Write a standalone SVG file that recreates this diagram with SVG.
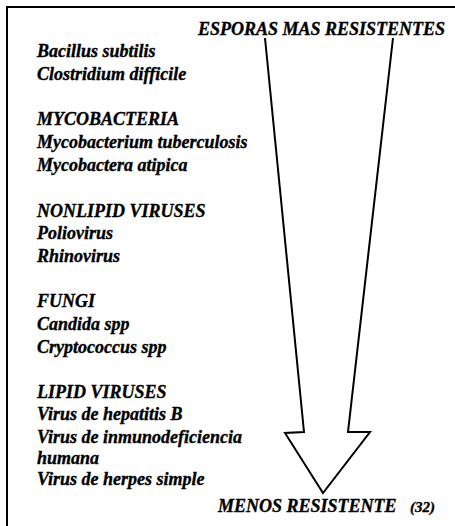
<svg xmlns="http://www.w3.org/2000/svg" width="455" height="526" viewBox="0 0 455 526">
<style>
text{font-family:"Liberation Serif","Times New Roman",serif;font-style:italic;font-weight:bold;font-size:18px;fill:#000;stroke:#000;stroke-width:0.35}
.ln{fill:none;stroke:#000;stroke-width:2;stroke-linejoin:miter}
</style>
<rect width="455" height="526" fill="#fff"/>
<g id="frame">
<polyline class="ln" points="7,526 7,7 455,7"/>
</g>
<g id="connectors">
<polyline id="arrow" class="ln" points="265,38 304,432 285,433 323,493 370,432 348,432 393,38"/>
</g>
<g id="top-label"><text x="198" y="35">ESPORAS MAS RESISTENTES</text></g>
<g id="list">
<text x="37" y="57">Bacillus subtilis</text>
<text x="37" y="80">Clostridium difficile</text>
<text x="37" y="125">MYCOBACTERIA</text>
<text x="37" y="148">Mycobacterium tuberculosis</text>
<text x="37" y="171">Mycobactera atipica</text>
<text x="37" y="217">NONLIPID VIRUSES</text>
<text x="37" y="239">Poliovirus</text>
<text x="37" y="262">Rhinovirus</text>
<text x="37" y="307">FUNGI</text>
<text x="37" y="330">Candida spp</text>
<text x="37" y="353">Cryptococcus spp</text>
<text x="37" y="398">LIPID VIRUSES</text>
<text x="37" y="420">Virus de hepatitis B</text>
<text x="37" y="443">Virus de inmunodeficiencia</text>
<text x="37" y="464">humana</text>
<text x="37" y="485">Virus de herpes simple</text>
</g>
<g id="bottom-label"><text x="218" y="512">MENOS RESISTENTE<tspan x="410" font-size="15">(32)</tspan></text></g>
</svg>
